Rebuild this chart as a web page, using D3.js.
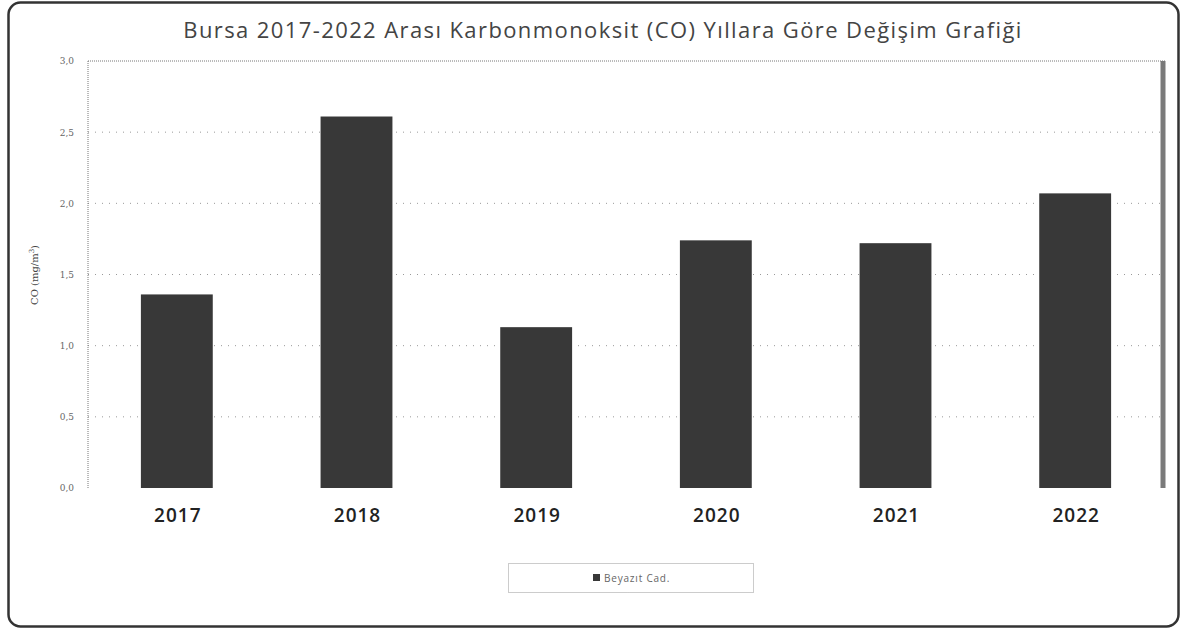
<!DOCTYPE html>
<html>
<head>
<meta charset="utf-8">
<script src="https://cdn.jsdelivr.net/npm/d3@7"></script>
<style>
  body { margin: 0; background: #fff; }
  svg { display: block; }
</style>
</head>
<body>
<div id="chart"></div>
<script>
const years = ['2017', '2018', '2019', '2020', '2021', '2022'];
const coValues = [1.36, 2.61, 1.13, 1.74, 1.72, 2.07];
const yTicks = [0, 0.5, 1.0, 1.5, 2.0, 2.5, 3.0];
const seriesName = 'Beyazıt Cad.';
const chartTitle = 'Bursa 2017-2022 Arası Karbonmonoksit (CO) Yıllara Göre Değişim Grafiği';

const W = 1182;
const H = 632;
const margin = { t: 61, r: 16, b: 144, l: 88 };
const innerW = W - margin.l - margin.r;
const innerH = H - margin.t - margin.b;

const svg = d3.select('#chart').append('svg')
  .attr('width', W)
  .attr('height', H);

// outer frame
svg.append('rect')
  .attr('x', 8.5).attr('y', 2.5)
  .attr('width', 1170).attr('height', 624)
  .attr('rx', 12)
  .attr('fill', '#fff')
  .attr('stroke', '#333')
  .attr('stroke-width', 2.5);

svg.append('text')
  .attr('x', 603).attr('y', 38)
  .attr('text-anchor', 'middle')
  .attr('font-family', 'Open Sans, sans-serif')
  .attr('font-size', 22)
  .attr('letter-spacing', 1.4)
  .attr('fill', '#444')
  .text(chartTitle);

const g = svg.append('g')
  .attr('transform', `translate(${margin.l}, ${margin.t})`);

const x = d3.scaleBand()
  .domain(years)
  .range([0, innerW])
  .paddingInner(0.6)
  .paddingOuter(0.3);

const y = d3.scaleLinear()
  .domain([0, 3])
  .range([innerH, 0]);

// gridlines
g.append('g')
  .selectAll('line')
  .data(yTicks.filter(d => d > 0 && d < 3))
  .join('line')
  .attr('x1', 0).attr('x2', innerW)
  .attr('y1', d => y(d)).attr('y2', d => y(d))
  .attr('stroke', '#999')
  .attr('stroke-width', 1)
  .attr('stroke-dasharray', '1,6');

// plot frame: dotted left and top, heavy right
g.append('line')
  .attr('x1', 0).attr('x2', innerW)
  .attr('y1', 0).attr('y2', 0)
  .attr('stroke', '#777').attr('stroke-dasharray', '1,1');
g.append('line')
  .attr('x1', 0).attr('x2', 0)
  .attr('y1', 0).attr('y2', innerH)
  .attr('stroke', '#777').attr('stroke-dasharray', '1,1');
g.append('line')
  .attr('x1', innerW - 3).attr('x2', innerW - 3)
  .attr('y1', 0).attr('y2', innerH)
  .attr('stroke', '#7a7a7a').attr('stroke-width', 5);

// y axis
const yAxis = d3.axisLeft(y)
  .tickValues(yTicks)
  .tickSize(0)
  .tickPadding(14)
  .tickFormat(d => d3.format('.1f')(d).replace('.', ','));

g.append('g')
  .attr('class', 'axis axis--y')
  .call(yAxis)
  .call(s => s.select('.domain').remove())
  .selectAll('text')
  .attr('font-family', 'DejaVu Serif, serif')
  .attr('font-size', 9)
  .attr('fill', '#666');

// x axis
const xAxis = d3.axisBottom(x).tickSize(0).tickPadding(21);
g.append('g')
  .attr('class', 'axis axis--x')
  .attr('transform', `translate(0, ${innerH})`)
  .call(xAxis)
  .call(s => s.select('.domain').remove())
  .selectAll('text')
  .attr('font-family', 'Open Sans, sans-serif')
  .attr('font-size', 19)
  .attr('font-weight', 600)
  .attr('letter-spacing', 1)
  .attr('fill', '#222');

// bars
g.append('g')
  .selectAll('rect')
  .data(years.map((yr, i) => ({ yr, v: coValues[i] })))
  .join('rect')
  .attr('x', d => x(d.yr) - 1)
  .attr('y', d => y(d.v))
  .attr('width', x.bandwidth())
  .attr('height', d => innerH - y(d.v))
  .attr('fill', '#383838');

// y axis title
svg.append('text')
  .attr('transform', 'translate(38, 275) rotate(-90)')
  .attr('text-anchor', 'middle')
  .attr('font-family', 'DejaVu Serif, serif')
  .attr('font-size', 10)
  .attr('fill', '#444')
  .html('CO (mg/m<tspan dy="-4" font-size="7">3</tspan><tspan dy="4">)</tspan>');

// legend
const legend = svg.append('g').attr('transform', 'translate(508, 563)');
legend.append('rect')
  .attr('x', 0.5).attr('y', 0.5)
  .attr('width', 245).attr('height', 29)
  .attr('fill', '#fff')
  .attr('stroke', '#999')
  .attr('stroke-dasharray', '1,1');
legend.append('rect')
  .attr('x', 85).attr('y', 11)
  .attr('width', 7).attr('height', 7)
  .attr('fill', '#383838');
legend.append('text')
  .attr('x', 96).attr('y', 18.5)
  .attr('font-family', 'Open Sans, sans-serif')
  .attr('font-size', 10)
  .attr('letter-spacing', 0.8)
  .attr('fill', '#666')
  .text(seriesName);
</script>
</body>
</html>
